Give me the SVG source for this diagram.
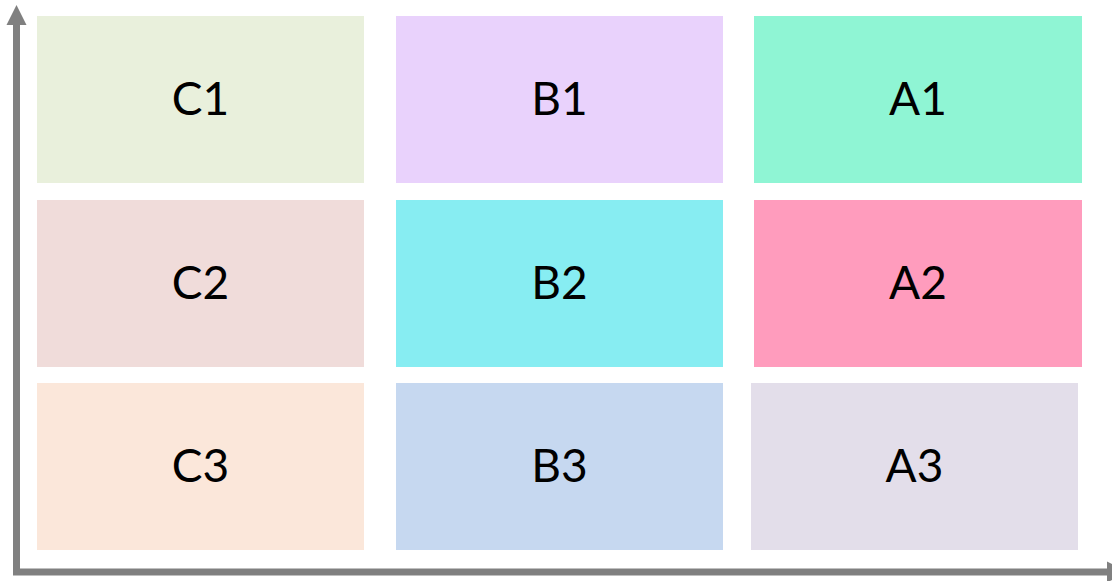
<svg xmlns="http://www.w3.org/2000/svg" width="1112" height="581" viewBox="0 0 1112 581">
<style>
.cell{stroke:none}
.lbl{font-family:Lato,"Open Sans","Liberation Sans",sans-serif;font-size:46px;fill:#000;text-anchor:middle}
.axis{fill:none;stroke:#808080;stroke-width:7;stroke-linejoin:miter}
.head{fill:#808080}
</style>
<rect width="1112" height="581" fill="#fff"/>
<g id="connectors">
<path class="axis" d="M16.5,24 V572 H1108"/>
<polygon class="head" points="16.5,5 6.5,25 26.5,25"/>
<polygon class="head" points="1107,561.5 1107,582.5 1128,572"/>
</g>
<g id="C1"><rect class="cell" x="37" y="16" width="327" height="167" fill="#E9F0DC"/><text class="lbl" x="200.5" y="115">C1</text></g>
<g id="B1"><rect class="cell" x="396" y="16" width="327" height="167" fill="#E9D2FC"/><text class="lbl" x="559.5" y="115">B1</text></g>
<g id="A1"><rect class="cell" x="754" y="16" width="328" height="167" fill="#8FF5D4"/><text class="lbl" x="918" y="115">A1</text></g>
<g id="C2"><rect class="cell" x="37" y="200" width="327" height="167" fill="#F0DCDA"/><text class="lbl" x="200.5" y="299">C2</text></g>
<g id="B2"><rect class="cell" x="396" y="200" width="327" height="167" fill="#87EDF2"/><text class="lbl" x="559.5" y="299">B2</text></g>
<g id="A2"><rect class="cell" x="754" y="200" width="328" height="167" fill="#FF9CBD"/><text class="lbl" x="918" y="299">A2</text></g>
<g id="C3"><rect class="cell" x="37" y="383" width="327" height="167" fill="#FBE7DA"/><text class="lbl" x="200.5" y="482">C3</text></g>
<g id="B3"><rect class="cell" x="396" y="383" width="327" height="167" fill="#C6D8F0"/><text class="lbl" x="559.5" y="482">B3</text></g>
<g id="A3"><rect class="cell" x="751" y="383" width="327" height="167" fill="#E3DEEA"/><text class="lbl" x="914.5" y="482">A3</text></g>
</svg>
